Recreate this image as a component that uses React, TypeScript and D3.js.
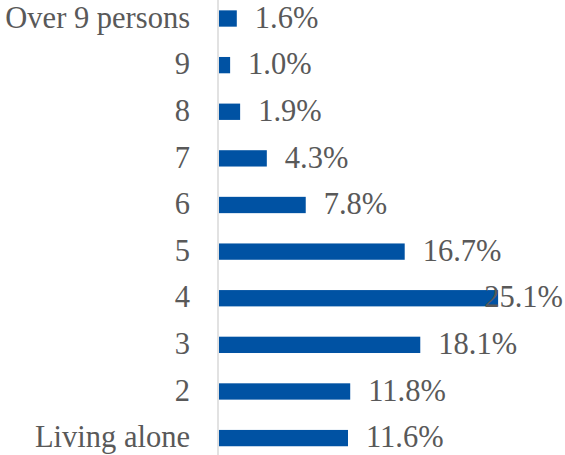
import React from "react";
import * as d3 from "d3";

const categories = ["Over 9 persons", "9", "8", "7", "6", "5", "4", "3", "2", "Living alone"];
const values = [1.6, 1.0, 1.9, 4.3, 7.8, 16.7, 25.1, 18.1, 11.8, 11.6];
const valueLabels = ["1.6%", "1.0%", "1.9%", "4.3%", "7.8%", "16.7%", "25.1%", "18.1%", "11.8%", "11.6%"];

const W = 565;
const H = 455;
const FONT = "'Liberation Serif', 'DejaVu Serif', serif";

function textWidth(s: string, fs: number) {
  let w = 0;
  for (const ch of s) {
    if (ch === ".") w += 0.25;
    else if (ch === "%") w += 0.833;
    else w += 0.5;
  }
  return w * fs;
}

export default function App() {
  const x0 = 219;
  const x = d3.scaleLinear().domain([0, 1]).range([x0, x0 + 11.12]);
  const y = d3
    .scaleBand<string>()
    .domain(categories)
    .range([-4.8, 461.4])
    .paddingInner(0.65)
    .paddingOuter(0.325);
  const fs = 30.5;
  return (
    <svg
      width={W}
      height={H}
      style={{ position: "absolute", left: 0, top: 0, background: "#fff" }}
      fontFamily={FONT}
    >
      <line x1={x0 - 1} x2={x0 - 1} y1={0} y2={H} stroke="#d9d9d9" strokeWidth={1.5} />
      {categories.map((c, i) => {
        const yy = y(c)!;
        const bw = y.bandwidth();
        const xe = x(values[i]);
        const lw = textWidth(valueLabels[i], fs);
        const lx = Math.min(xe + 18, W - 2 - lw);
        return (
          <g key={c}>
            <rect x={x0} y={yy} width={xe - x0} height={bw} fill="#0052a3" />
            <text
              x={190}
              y={yy + bw / 2}
              dy="0.3em"
              textAnchor="end"
              fontSize={fs}
              fill="#595959"
            >
              {c}
            </text>
            <text x={lx} y={yy + bw / 2} dy="0.3em" fontSize={fs} fill="#595959">
              {valueLabels[i]}
            </text>
          </g>
        );
      })}
    </svg>
  );
}
